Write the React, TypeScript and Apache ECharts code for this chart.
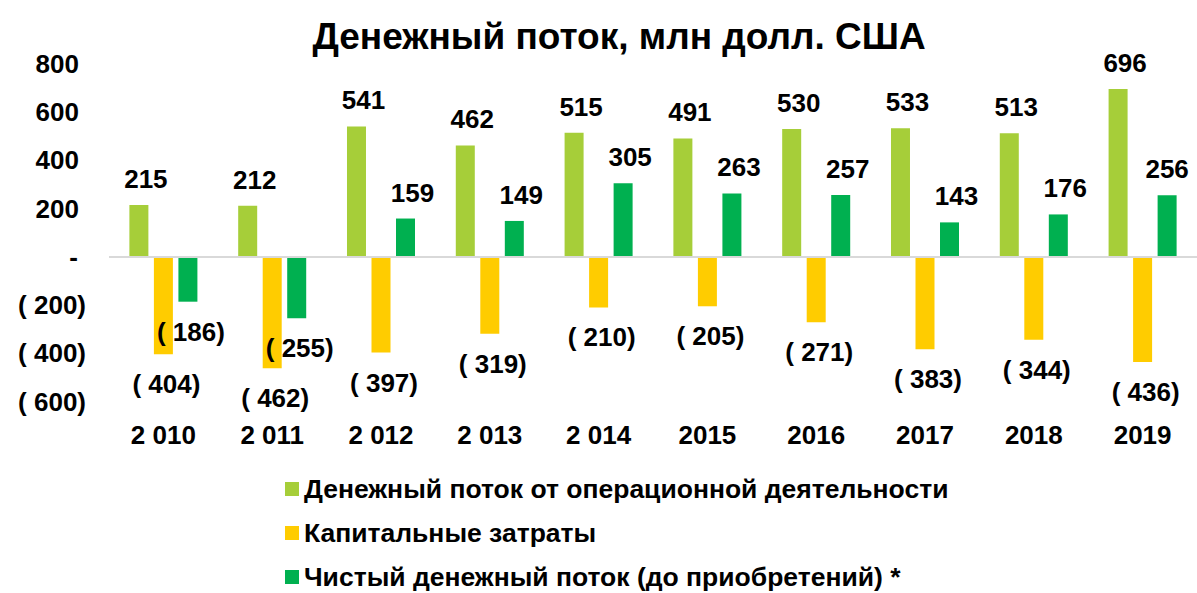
import React, { useEffect, useRef } from "react";
import * as echarts from "echarts";

const categories = ["2 010", "2 011", "2 012", "2 013", "2 014", "2015", "2016", "2017", "2018", "2019"];
const operatingCF = [215, 212, 541, 462, 515, 491, 530, 533, 513, 696];
const capex = [-404, -462, -397, -319, -210, -205, -271, -383, -344, -436];
const netCF = [-186, -255, 159, 149, 305, 263, 257, 143, 176, 256];
const seriesNames = [
  "Денежный поток от операционной деятельности",
  "Капитальные затраты",
  "Чистый денежный поток (до приобретений) *",
];
const colors = ["#a6ce39", "#ffcc00", "#00b050"];

const FONT = "'Liberation Sans', Arial, sans-serif";

const fmt = (v: number) => (v < 0 ? `( ${-v})` : `${v}`);

function buildData(values: number[], lastOffset?: number) {
  return values.map((v, i) => {
    const neg = v < 0;
    let dx = neg ? 3 : 7;
    if (i === values.length - 1 && lastOffset !== undefined && !neg) dx = lastOffset;
    return {
      value: v,
      label: {
        position: neg ? "bottom" : "top",
        distance: neg ? 17 : 13,
        offset: [dx, 0],
      },
    };
  });
}

export default function App() {
  const ref = useRef<HTMLDivElement>(null);
  useEffect(() => {
    if (!ref.current) return;
    const chart = echarts.init(ref.current, null, { renderer: "svg" });
    const labelStyle = {
      show: true,
      fontFamily: FONT,
      fontWeight: "bold" as const,
      fontSize: 26,
      color: "#000",
      formatter: (p: any) => fmt(p.value),
    };
    const mk = (name: string, vals: number[], color: string, extra: any = {}) => ({
      name,
      type: "bar",
      data: buildData(vals, extra.lastOffset),
      barWidth: 19,
      barGap: "29%",
      itemStyle: { color },
      label: labelStyle,
      ...(extra.markLine ? { markLine: extra.markLine } : {}),
    });
    chart.setOption({
      animation: false,
      backgroundColor: "#fff",
      title: {
        text: "Денежный поток, млн долл. США",
        left: 614,
        textAlign: "center",
        top: 13,
        textStyle: { fontFamily: FONT, fontWeight: "bold", fontSize: 37, color: "#000" },
      },
      legend: {
        orient: "vertical",
        left: 285,
        top: 474,
        height: 150,
        padding: 0,
        itemWidth: 14,
        itemHeight: 14,
        itemGap: 14,
        icon: "rect",
        textStyle: { fontFamily: FONT, fontWeight: "bold", fontSize: 26.5, color: "#000", lineHeight: 30 },
        data: seriesNames,
      },
      grid: { left: 109, right: -6, top: 64, bottom: 191.5 },
      xAxis: {
        type: "category",
        data: categories,
        axisLine: { show: false },
        axisTick: { show: false },
        axisLabel: { margin: 20, fontFamily: FONT, fontWeight: "bold", fontSize: 26, color: "#000" },
      },
      yAxis: {
        type: "value",
        min: -600,
        max: 800,
        interval: 200,
        splitLine: { show: false },
        axisLine: { show: false },
        axisTick: { show: false },
        axisLabel: {
          margin: 23,
          fontFamily: FONT,
          fontWeight: "bold",
          fontSize: 26,
          color: "#000",
          formatter: (v: number) => (v === 0 ? "{z|-}" : v < 0 ? `( ${-v})` : `{p|${v}}`),
          rich: {
            p: { fontFamily: FONT, fontWeight: "bold", fontSize: 26, color: "#000", padding: [0, 7, 0, 0] },
            z: { fontFamily: FONT, fontWeight: "bold", fontSize: 26, color: "#000", padding: [0, 8, 0, 0] },
          },
        },
      },
      series: [
        mk(seriesNames[0], operatingCF, colors[0], {
          markLine: {
            silent: true,
            symbol: "none",
            label: { show: false },
            lineStyle: { color: "#d9d9d9", width: 2, type: "solid" },
            data: [{ yAxis: 0 }],
          },
        }),
        mk(seriesNames[1], capex, colors[1]),
        mk(seriesNames[2], netCF, colors[2], { lastOffset: 0 }),
      ],
    });
    return () => chart.dispose();
  }, []);
  return (
    <div
      ref={ref}
      style={{ position: "fixed", left: 0, top: 0, width: 1197, height: 593, background: "#fff" }}
    />
  );
}
